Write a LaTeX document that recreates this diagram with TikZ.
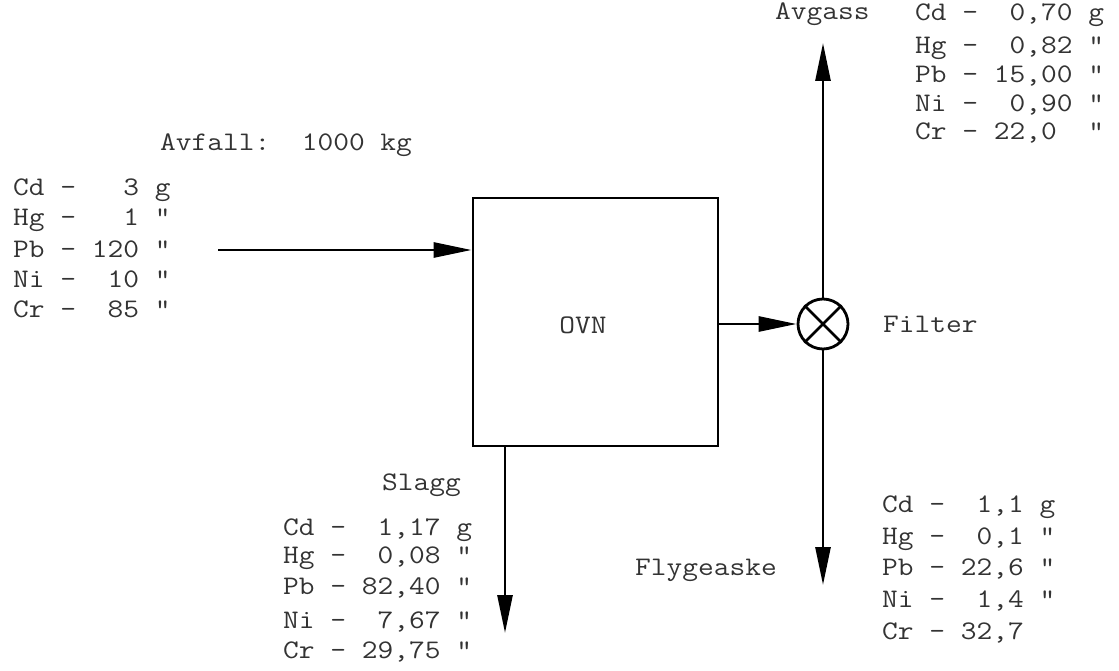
\documentclass[tikz,border=0pt]{standalone}
\usepackage{fontspec}
\setmonofont{Latin Modern Mono}[FakeStretch=1.14]
\usetikzlibrary{arrows.meta}
\newcommand\dq{\char34\relax}
\begin{document}
\begin{tikzpicture}[x=1pt,y=-1pt,
  txt/.style={inner sep=0pt,anchor=base west,text=black!80,font=\ttfamily\fontsize{26.8}{30}\selectfont},
  arr/.style={line width=2.8pt,-{Triangle[length=38pt,width=15pt]}},
  ln/.style={line width=2.6pt},
  ovnbox/.style={draw,line width=2.8pt,minimum width=245pt,minimum height=248pt,inner sep=0pt},
  filt/.style={draw,circle,line width=2.8pt,minimum size=50pt,inner sep=0pt}]
\useasboundingbox (0,0) rectangle (1119,671);
% main elements
\node[ovnbox] (box) at (595.5,322) {};
\node[txt,anchor=center] (ovn) at (583,325) {OVN};
\node[filt] (filter) at (823,324) {};
\draw[ln] (filter.north east) -- (filter.south west);
\draw[ln] (filter.north west) -- (filter.south east);
% connector end points
\coordinate (inS) at (218,250);
\coordinate (gasEnd) at (823,43);
\coordinate (flyEnd) at (821,585);
\coordinate (slagEnd) at (505,633);
% connectors
\draw[arr] (inS) -- (inS -| box.west);
\draw[arr] (box.east |- filter.west) -- (filter.west);
\draw[arr] (filter.north) -- (gasEnd);
\draw[arr] (filter.south) -- (filter.south |- flyEnd);
\draw[arr] (slagEnd |- box.south) -- (slagEnd);
% labels
\node[txt] (avfall) at (160,150.5) {Avfall:~~1000~kg};
\node[txt] (avgass) at (775,20) {Avgass};
\node[txt] (filterlbl) at (883,332.5) {Filter};
\node[txt] (slagg) at (382,490.5) {Slagg};
\node[txt] (flyge) at (635,575.5) {Flygeaske};
% input list
\node[txt] (inA) at (13,195.5) {Cd~-~~~3~g};
\node[txt] (inB) at (13,225.5) {Hg~-~~~1~\dq};
\node[txt] (inC) at (13,257.5) {Pb~-~120~\dq};
\node[txt] (inD) at (13,287.5) {Ni~-~~10~\dq};
\node[txt] (inE) at (13,317.5) {Cr~-~~85~\dq};
% gas list
\node[txt] (gA) at (915,20.5) {Cd~-~~0,70~g};
\node[txt] (gB) at (915,54) {Hg~-~~0,82~\dq};
\node[txt] (gC) at (915,83) {Pb~-~15,00~\dq};
\node[txt] (gD) at (915,111.5) {Ni~-~~0,90~\dq};
\node[txt] (gE) at (915,139.5) {Cr~-~22,0~~\dq};
% slag list
\node[txt] (sA) at (283,535.5) {Cd~-~~1,17~g};
\node[txt] (sB) at (283,563.5) {Hg~-~~0,08~\dq};
\node[txt] (sC) at (283,594.5) {Pb~-~82,40~\dq};
\node[txt] (sD) at (283,628.5) {Ni~-~~7,67~\dq};
\node[txt] (sE) at (283,658.5) {Cr~-~29,75~\dq};
% fly ash list
\node[txt] (fA) at (882,512.5) {Cd~-~~1,1~g};
\node[txt] (fB) at (882,544.5) {Hg~-~~0,1~\dq};
\node[txt] (fC) at (882,575.5) {Pb~-~22,6~\dq};
\node[txt] (fD) at (882,607.5) {Ni~-~~1,4~\dq};
\node[txt] (fE) at (882,639.5) {Cr~-~32,7};
\end{tikzpicture}
\end{document}
